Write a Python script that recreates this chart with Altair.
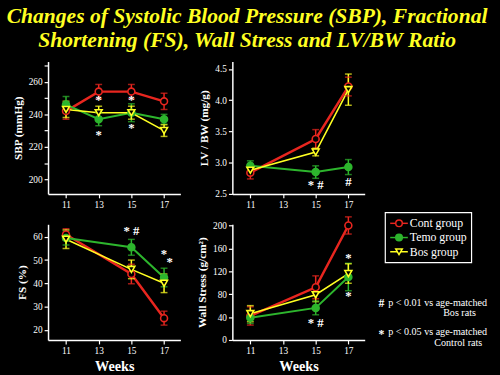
import altair as alt
import pandas as pd

RED = "#e8261f"
GREEN = "#2db52d"
YELLOW = "#ffff22"
SERIF = "Liberation Serif"

groups = ["Cont group", "Temo group", "Bos group"]
title_text = "Changes of Systolic Blood Pressure (SBP), Fractional\nShortening (FS), Wall Stress and LV/BW Ratio"

# --- SBP ---
sbp_weeks = [11, 13, 15, 17]
sbp_cont = [242, 254, 254, 248]
sbp_cont_err = [5, 4.4, 4.4, 5]
sbp_temo = [246, 237, 241, 237]
sbp_temo_err = [5, 4, 5.5, 3]
sbp_bos = [243, 241, 241, 230]
sbp_bos_err = [5, 4, 4, 3.6]
sbp_note_w = [13, 13, 15, 15]
sbp_note_v = [248.5, 227, 249, 231.5]
sbp_note_t = ["*", "*", "*", "*"]

# --- LV/BW ---
lv_weeks = [11, 15, 17]
lv_cont = [2.84, 3.38, 4.22]
lv_cont_err = [0.1, 0.15, 0.15]
lv_temo = [2.95, 2.85, 2.93]
lv_temo_err = [0.08, 0.1, 0.12]
lv_bos = [2.88, 3.17, 4.17]
lv_bos_err = [0.05, 0.06, 0.25]
lv_note_w = [15, 17]
lv_note_v = [2.64, 2.69]
lv_note_t = ["* #", "#"]

# --- FS ---
fs_weeks = [11, 15, 17]
fs_cont = [61, 44, 25]
fs_cont_err = [2.5, 4.2, 3]
fs_temo = [59.5, 55.5, 42.5]
fs_temo_err = [3, 3.4, 4]
fs_bos = [59, 46, 40]
fs_bos_err = [4, 4, 4]
fs_note_w = [15, 17, 17.35]
fs_note_v = [62.5, 52.5, 49]
fs_note_t = ["* #", "*", "*"]

# --- Wall stress ---
ws_weeks = [11, 15, 17]
ws_cont = [42, 92, 200]
ws_cont_err = [16, 20, 15]
ws_temo = [39, 56, 110]
ws_temo_err = [10, 12, 24]
ws_bos = [46, 79, 116]
ws_bos_err = [14, 12, 17]
ws_note_w = [15, 17, 17]
ws_note_v = [30, 143, 76]
ws_note_t = ["* #", "*", "*"]

foot_sym = ["#", "*"]
foot_line1 = ["p < 0.01 vs age-matched", "p < 0.05 vs age-matched"]
foot_line2 = ["Bos rats", "Control rats"]

stroke_scale = alt.Scale(domain=groups, range=[RED, GREEN, YELLOW])
fill_scale = alt.Scale(domain=groups, range=["#000000", GREEN, "#000000"])
shape_scale = alt.Scale(domain=groups, range=["circle", "circle", "triangle-down"])
width_scale = alt.Scale(domain=groups, range=[2.5, 1.6, 2.0])

PW = 135


def panel(weeks, cont, ce, temo, te, bos, be, nw, nv, nt, ydom, yticks, ytitle, height,
          xtitle=None, labelexpr=None, extra=None):
    rows = []
    for g, vals, errs in zip(groups, [cont, temo, bos], [ce, te, be]):
        for w, v, e in zip(weeks, vals, errs):
            rows.append({"week": w, "value": v, "lo": v - e, "hi": v + e, "group": g})
    df = pd.DataFrame(rows)
    xax = alt.Axis(values=[11, 13, 15, 17], title=xtitle, titleFontSize=14.5,
                   titleFontWeight="bold", titlePadding=5, labelOverlap=False)
    xscale = alt.Scale(domain=[9.9, 18.0], nice=False, zero=False)
    x = alt.X("week:Q", scale=xscale, axis=xax)
    yaxis_kw = dict(values=yticks, title=ytitle, labelOverlap=False, labelFlush=False)
    if labelexpr:
        yaxis_kw["labelExpr"] = labelexpr
    yax = alt.Axis(**yaxis_kw)
    yscale = alt.Scale(domain=ydom, nice=False, zero=False)
    y = alt.Y("value:Q", scale=yscale, axis=yax)
    ylo = alt.Y("lo:Q", scale=yscale, axis=yax)
    yhi = alt.Y("hi:Q", scale=yscale, axis=yax)
    stroke = alt.Stroke("group:N", scale=stroke_scale, legend=None)
    base = alt.Chart(df)
    lines = base.mark_line().encode(
        x=x, y=y, stroke=stroke,
        strokeWidth=alt.StrokeWidth("group:N", scale=width_scale, legend=None))
    rules = base.mark_rule(strokeWidth=1.5).encode(
        x=x, y=ylo, y2="hi:Q", stroke=stroke)
    cap_lo = base.mark_tick(orient="horizontal", size=7, thickness=1.5).encode(
        x=x, y=ylo, color=alt.Color("group:N", scale=stroke_scale, legend=None))
    cap_hi = base.mark_tick(orient="horizontal", size=7, thickness=1.5).encode(
        x=x, y=yhi, color=alt.Color("group:N", scale=stroke_scale, legend=None))
    pts = base.mark_point(filled=True, opacity=1, size=50, strokeWidth=1.6).encode(
        x=x, y=y, stroke=stroke,
        fill=alt.Fill("group:N", scale=fill_scale, legend=None),
        shape=alt.Shape("group:N", scale=shape_scale, legend=None))
    notes = alt.Chart(pd.DataFrame({"week": nw, "value": nv, "t": nt})).mark_text(
        color="white", font=SERIF, fontSize=13, fontWeight="bold").encode(
        x=x, y=y, text="t:N")
    layers = [lines, rules, cap_lo, cap_hi, pts, notes]
    if extra:
        layers += extra
    return alt.layer(*layers).properties(width=PW, height=height)


title_layer = alt.Chart(pd.DataFrame({"t": [title_text]})).mark_text(
    color=YELLOW, font=SERIF, fontSize=22, fontWeight="bold", fontStyle="italic",
    lineBreak="\n", lineHeight=24, align="center", baseline="top").encode(
    text="t:N", x=alt.value(203), y=alt.value(-56))


def foot(text, x, y, size=10.3, bold=False):
    kw = dict(color="white", font=SERIF, fontSize=size, align="left")
    if bold:
        kw["fontWeight"] = "bold"
    return alt.Chart(pd.DataFrame({"s": [text]})).mark_text(**kw).encode(
        text="s:N", x=alt.value(x), y=alt.value(y))


foot_layers = [
    foot(foot_sym[0], 149, 80, 12, True),
    foot(foot_line1[0], 159, 80),
    foot(foot_line2[0], 215, 91),
    foot(foot_sym[1], 149, 112, 12, True),
    foot(foot_line1[1], 159, 110),
    foot(foot_line2[1], 206, 121),
]

# legend box and entries (drawn in the wall-stress panel, to its right)
legend_layers = [
    alt.Chart(pd.DataFrame({"k": [0]})).mark_rect(
        fill="black", stroke="white", strokeWidth=1.2).encode(
        x=alt.value(156), x2=alt.value(244), y=alt.value(-12), y2=alt.value(39))
]
row_y = [-1, 13.5, 28]
for gname, ry in zip(groups, row_y):
    gdf = pd.DataFrame({"group": [gname]})
    gch = alt.Chart(gdf)
    legend_layers += [
        gch.mark_rule(strokeWidth=1.5).encode(
            x=alt.value(161), x2=alt.value(179), y=alt.value(ry),
            stroke=alt.Stroke("group:N", scale=stroke_scale, legend=None)),
        gch.mark_point(filled=True, opacity=1, size=45, strokeWidth=1.5).encode(
            x=alt.value(170), y=alt.value(ry),
            stroke=alt.Stroke("group:N", scale=stroke_scale, legend=None),
            fill=alt.Fill("group:N", scale=fill_scale, legend=None),
            shape=alt.Shape("group:N", scale=shape_scale, legend=None)),
        gch.mark_text(color="white", font=SERIF, fontSize=12, align="left").encode(
            x=alt.value(181), y=alt.value(ry), text="group:N"),
    ]

p1 = panel(sbp_weeks, sbp_cont, sbp_cont_err, sbp_temo, sbp_temo_err, sbp_bos, sbp_bos_err,
           sbp_note_w, sbp_note_v, sbp_note_t, [191, 272.5], list(range(200, 271, 10)),
           "SBP (mmHg)", 135, labelexpr="datum.value % 20 == 0 ? datum.label : ''",
           extra=[title_layer])
p2 = panel(lv_weeks, lv_cont, lv_cont_err, lv_temo, lv_temo_err, lv_bos, lv_bos_err,
           lv_note_w, lv_note_v, lv_note_t, [2.5, 4.62], [2.5, 3.0, 3.5, 4.0, 4.5],
           "LV / BW (mg/g)", 135)
p3 = panel(fs_weeks, fs_cont, fs_cont_err, fs_temo, fs_temo_err, fs_bos, fs_bos_err,
           fs_note_w, fs_note_v, fs_note_t, [15.6, 65.4], [20, 30, 40, 50, 60],
           "FS (%)", 118, xtitle="Weeks")
p4 = panel(ws_weeks, ws_cont, ws_cont_err, ws_temo, ws_temo_err, ws_bos, ws_bos_err,
           ws_note_w, ws_note_v, ws_note_t, [0, 202], [0, 40, 80, 120, 160, 200],
           "Wall Stress (g/cm\u00b2)", 118, xtitle="Weeks", extra=foot_layers + legend_layers)

chart = alt.concat(p1, p2, p3, p4, columns=2, spacing={"row": 31, "column": 53},
                   bounds="flush").properties(
    padding={"left": 6, "top": 2, "right": 12, "bottom": 2}
).configure(background="black").configure_view(stroke=None).configure_axis(
    domainColor="white", tickColor="white", labelColor="white", titleColor="white",
    labelFont=SERIF, titleFont=SERIF, labelFontSize=9.5, titleFontSize=11.5,
    titleFontWeight="bold", grid=False, domainWidth=1.5, tickWidth=1.2, tickSize=4,
    labelPadding=2, titlePadding=5, labelOverlap=False, labelFlush=False,
)

chart.save("out.html", embed_options={"renderer": "svg", "actions": False})
